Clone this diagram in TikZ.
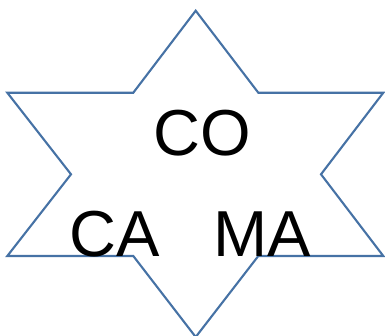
\documentclass[tikz,border=0pt]{standalone}
\usepackage{fontspec}
\setmainfont{Liberation Sans}
\definecolor{starblue}{RGB}{70,114,165}
\begin{document}
\begin{tikzpicture}[x=1pt,y=-1pt,
  starline/.style={draw=starblue,line width=2.1pt,line join=miter},
  lbl/.style={font=\fontsize{65}{65}\selectfont,inner sep=0pt,anchor=base}]
\useasboundingbox (0,0) rectangle (385,335);
\draw[starline] (195.7,10.7) -- (258.3,92.7) -- (383.3,92.7) -- (321,174.3) -- (383.3,256) -- (258.3,256) -- (195.7,337) -- (133.3,256) -- (7.3,256) -- (71,174.3) -- (7.3,92.7) -- (133.3,92.7) -- cycle;
\node[lbl] (co) at (202,155) {CO};
\node[lbl] (ca) at (115,256) {CA};
\node[lbl] (ma) at (262,256) {MA};
\end{tikzpicture}
\end{document}
